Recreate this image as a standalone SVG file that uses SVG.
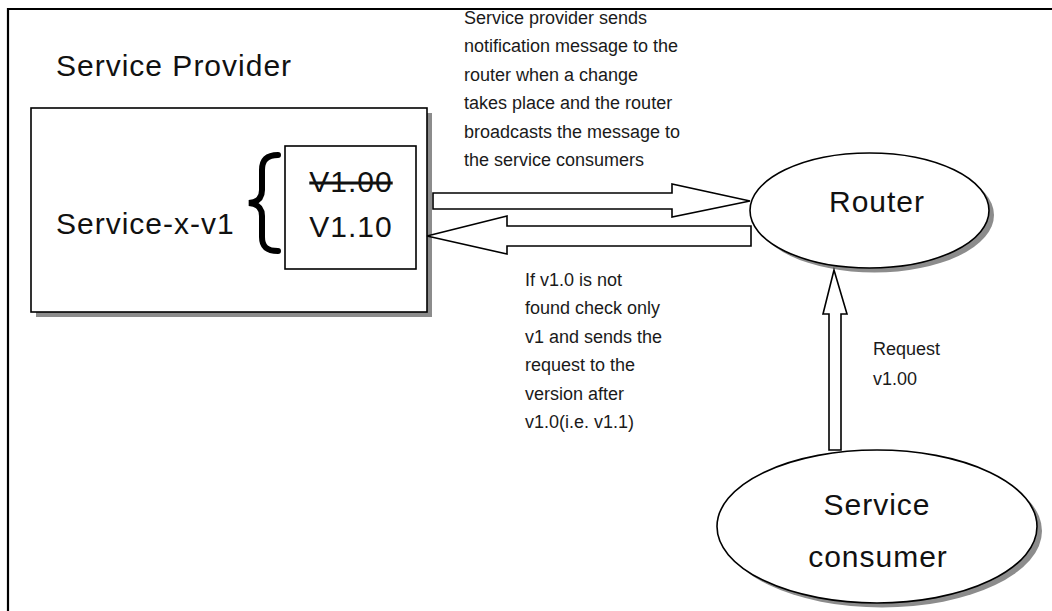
<svg xmlns="http://www.w3.org/2000/svg" width="1052" height="611" viewBox="0 0 1052 611">
  <style>
    .shape { fill: #ffffff; stroke: #000000; stroke-width: 1.6; }
    .shadow { fill: #8c8c8c; stroke: none; }
    .big { font-family: "Liberation Sans", Arial, sans-serif; font-size: 30px; fill: #111111; letter-spacing: 1px; }
    .note { font-family: "Liberation Sans", Arial, sans-serif; font-size: 18px; fill: #1a1a1a; }
    .arrow { fill: #ffffff; stroke: #000000; stroke-width: 1.6; stroke-linejoin: miter; }
  </style>
  <rect x="0" y="0" width="1052" height="611" fill="#ffffff"/>
  <g id="frame">
    <line x1="7" y1="9" x2="1052" y2="9" stroke="#000" stroke-width="2.2"/>
    <line x1="8" y1="8" x2="8" y2="611" stroke="#000" stroke-width="2.2"/>
  </g>

  <g id="service-provider">
    <text class="big" x="56" y="76" font-size="31">Service Provider</text>
    <rect class="shadow" x="36" y="113" width="396" height="204"/>
    <rect class="shape" x="31" y="108" width="396" height="204"/>
    <text class="big" x="56" y="234">Service-x-v1</text>
    <path d="M278,155 C267,155 262,160 262,170 L262,190 C262,198 258,202 249,203 C258,204 262,208 262,216 L262,237 C262,247 267,251 278,251" fill="none" stroke="#000" stroke-width="6" stroke-linecap="round"/>
  </g>

  <g id="versions">
    <rect class="shape" x="285" y="146" width="131" height="123"/>
    <text class="big" x="351" y="192" text-anchor="middle" font-size="29" letter-spacing="0" text-decoration="line-through">V1.00</text>
    <text class="big" x="351" y="237" text-anchor="middle" font-size="29" letter-spacing="0">V1.10</text>
  </g>

  <g id="router">
    <ellipse class="shadow" cx="874.5" cy="215" rx="119.5" ry="57.5"/>
    <ellipse class="shape" cx="869.5" cy="210.5" rx="119.5" ry="57.5"/>
    <text class="big" x="877" y="212" text-anchor="middle" letter-spacing="1.5">Router</text>
  </g>

  <g id="service-consumer">
    <ellipse class="shadow" cx="882" cy="531" rx="160" ry="76.5"/>
    <ellipse class="shape" cx="877" cy="526.5" rx="160" ry="76.5"/>
    <text class="big" x="877" y="515" text-anchor="middle">Service</text>
    <text class="big" x="878" y="567" text-anchor="middle">consumer</text>
  </g>

  <g id="connectors">
    <polygon class="arrow" points="433,193 672,193 672,184 750,201 672,217 672,209 433,209"/>
    <polygon class="arrow" points="751,226 507,226 507,216 427,236 507,254 507,246 751,246"/>
    <polygon class="arrow" points="829,450 829,314 823,314 834,270 847,314 841,314 841,450"/>
  </g>

  <g id="labels">
    <text class="note" x="464" y="24">Service provider sends</text>
    <text class="note" x="464" y="52.4">notification message to the</text>
    <text class="note" x="464" y="80.8">router  when a change</text>
    <text class="note" x="464" y="109.2">takes place and the router</text>
    <text class="note" x="464" y="137.6">broadcasts the message to</text>
    <text class="note" x="464" y="166">the service consumers</text>

    <text class="note" x="525" y="286">If v1.0 is not</text>
    <text class="note" x="525" y="314.4">found check only</text>
    <text class="note" x="525" y="342.8">v1 and sends the</text>
    <text class="note" x="525" y="371.2">request to the</text>
    <text class="note" x="525" y="399.6">version after</text>
    <text class="note" x="525" y="428">v1.0(i.e. v1.1)</text>

    <text class="note" x="873" y="355">Request</text>
    <text class="note" x="873" y="385">v1.00</text>
  </g>
</svg>
